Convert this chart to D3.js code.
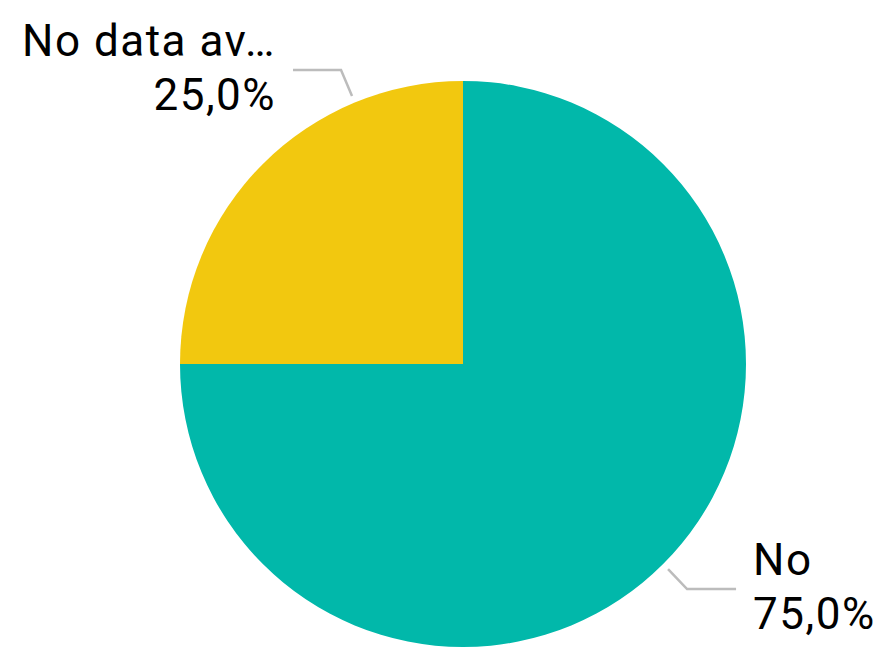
<!DOCTYPE html>
<html>
<head>
<meta charset="utf-8">
<script src="https://cdn.jsdelivr.net/npm/d3@7"></script>
<style>
  html, body { margin: 0; padding: 0; background: #fff; }
  svg { display: block; }
  text { font-family: Roboto, "DejaVu Sans", sans-serif; fill: #000; }
</style>
</head>
<body>
<svg id="chart" width="881" height="650"></svg>
<script>
// Share of responses by category
const categories = ["No", "No data available"];
const shortLabels = ["No", "No data av\u2026"];
const values = [75, 25];
const colors = ["#01B8AA", "#F2C80F"];
// where along each slice the leader line attaches (0 = start, 1 = end)
const anchorFraction = [0.5, 0.75];

const W = 881, H = 650;
const cx = 463, cy = 364, radius = 283;

const svg = d3.select("#chart");
const g = svg.append("g").attr("transform", `translate(${cx},${cy})`);

const data = categories.map((c, i) => ({ name: c, label: shortLabels[i], value: values[i], color: colors[i], frac: anchorFraction[i] }));
const total = d3.sum(values);

const pie = d3.pie().sort(null).value(d => d.value);
const arc = d3.arc().innerRadius(0).outerRadius(radius);
const arcs = pie(data);

g.selectAll("path.slice")
  .data(arcs)
  .join("path")
  .attr("class", "slice")
  .attr("d", arc)
  .attr("fill", d => d.data.color);

const fmt = v => (v / total * 100).toFixed(1).replace(".", ",") + "%";

arcs.forEach(a => {
  const ang = a.startAngle + (a.endAngle - a.startAngle) * a.data.frac;
  const r0 = radius + 7;
  const p0 = [Math.sin(ang) * r0, -Math.cos(ang) * r0];
  const right = Math.sin(ang) > 0;
  const down = -Math.cos(ang) > 0;
  // elbow then horizontal run
  const p1 = right ? [p0[0] + 19, p0[1] + (down ? 20 : -20)] : [p0[0] - 11, p0[1] + (down ? 26 : -26)];
  const p2 = [p1[0] + (right ? 49 : -48), p1[1]];

  g.append("polyline")
    .attr("points", [p0, p1, p2].map(p => p.join(",")).join(" "))
    .attr("fill", "none")
    .attr("stroke", "#BCBCBC")
    .attr("stroke-width", 2.5);

  const tx = p2[0] + (right ? 17 : -17);
  const t = g.append("text")
    .attr("text-anchor", right ? "start" : "end")
    .attr("font-size", 44)
    .attr("letter-spacing", 1.5);
  const b1 = p1[1] - 14;
  t.append("tspan").attr("x", tx).attr("y", b1).text(a.data.label);
  t.append("tspan").attr("x", tx).attr("y", b1 + 54).text(fmt(a.data.value));
});
</script>
</body>
</html>
